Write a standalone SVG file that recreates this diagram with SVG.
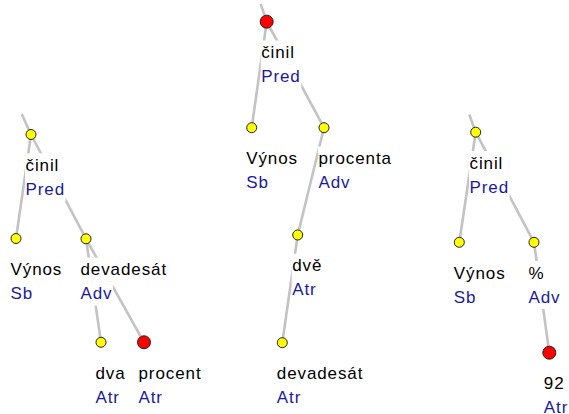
<svg xmlns="http://www.w3.org/2000/svg" width="569" height="414" viewBox="0 0 569 414">
<style>
.e{stroke:#c3c3c3;stroke-width:2.6;fill:none}
.n{stroke:#222;stroke-width:1}
.y{fill:#ffff00}
.r{fill:#ff0000}
.bg{fill:#fff}
text{font-family:"Liberation Sans",Arial,sans-serif;font-size:17px;letter-spacing:0.9px}
.w{fill:#000}
.f{fill:#1a1a9e}
</style>
<rect width="569" height="414" fill="#fff"/>
<g id="connectors">
<line class="e" x1="21.7" y1="114" x2="31" y2="134.5"/>
<line class="e" x1="31" y1="134.5" x2="16" y2="238.5"/>
<line class="e" x1="31" y1="134.5" x2="86" y2="238.8"/>
<line class="e" x1="86" y1="238.8" x2="101" y2="342.3"/>
<line class="e" x1="86" y1="238.8" x2="144" y2="342.3"/>
<line class="e" x1="260.7" y1="4" x2="266.7" y2="21.7"/>
<line class="e" x1="266.7" y1="21.7" x2="251.7" y2="127.7"/>
<line class="e" x1="266.7" y1="21.7" x2="324" y2="127.7"/>
<line class="e" x1="324" y1="127.7" x2="297.7" y2="235"/>
<line class="e" x1="297.7" y1="235" x2="282.3" y2="342.7"/>
<line class="e" x1="469.3" y1="114.5" x2="475.7" y2="132.2"/>
<line class="e" x1="475.7" y1="132.2" x2="459.3" y2="242.3"/>
<line class="e" x1="475.7" y1="132.2" x2="534" y2="242.3"/>
<line class="e" x1="534" y1="242.3" x2="549.3" y2="352.7"/>
</g>
<g id="t1_cinil">
<rect class="bg" x="25" y="153.3" width="34.9" height="24"/><rect class="bg" x="25" y="177.3" width="40.6" height="24"/>
<circle class="n y" cx="31" cy="134.5" r="5"/>
<text class="w" x="25.5" y="170.8">činil</text><text class="f" x="25.5" y="194.8">Pred</text>
</g>
<g id="t1_vynos">
<rect class="bg" x="10" y="257.3" width="52.8" height="24"/><rect class="bg" x="10" y="281.3" width="23.7" height="24"/>
<circle class="n y" cx="16" cy="238.5" r="5"/>
<text class="w" x="10.5" y="274.8">Výnos</text><text class="f" x="10.5" y="298.8">Sb</text>
</g>
<g id="t1_devadesat">
<rect class="bg" x="80" y="257.6" width="87.6" height="24"/><rect class="bg" x="80" y="281.6" width="33.1" height="24"/>
<circle class="n y" cx="86" cy="238.8" r="5"/>
<text class="w" x="80.5" y="275.1">devadesát</text><text class="f" x="80.5" y="299.1">Adv</text>
</g>
<g id="t1_dva">
<rect class="bg" x="95" y="361.1" width="31.2" height="24"/><rect class="bg" x="95" y="385.1" width="25.5" height="24"/>
<circle class="n y" cx="101" cy="342.3" r="5"/>
<text class="w" x="95.5" y="378.6">dva</text><text class="f" x="95.5" y="402.6">Atr</text>
</g>
<g id="t1_procent">
<rect class="bg" x="138" y="361.1" width="64.1" height="24"/><rect class="bg" x="138" y="385.1" width="25.5" height="24"/>
<circle class="n r" cx="144" cy="342.3" r="6.5"/>
<text class="w" x="138.5" y="378.6">procent</text><text class="f" x="138.5" y="402.6">Atr</text>
</g>
<g id="t2_cinil">
<rect class="bg" x="260.7" y="40.5" width="34.9" height="24"/><rect class="bg" x="260.7" y="64.5" width="40.6" height="24"/>
<circle class="n r" cx="266.7" cy="21.7" r="6.5"/>
<text class="w" x="261.2" y="58">činil</text><text class="f" x="261.2" y="82">Pred</text>
</g>
<g id="t2_vynos">
<rect class="bg" x="245.7" y="146.5" width="52.8" height="24"/><rect class="bg" x="245.7" y="170.5" width="23.7" height="24"/>
<circle class="n y" cx="251.7" cy="127.7" r="5"/>
<text class="w" x="246.2" y="164">Výnos</text><text class="f" x="246.2" y="188">Sb</text>
</g>
<g id="t2_procenta">
<rect class="bg" x="318" y="146.5" width="74.4" height="24"/><rect class="bg" x="318" y="170.5" width="33.1" height="24"/>
<circle class="n y" cx="324" cy="127.7" r="5"/>
<text class="w" x="318.5" y="164">procenta</text><text class="f" x="318.5" y="188">Adv</text>
</g>
<g id="t2_dve">
<rect class="bg" x="291.7" y="253.8" width="31.2" height="24"/><rect class="bg" x="291.7" y="277.8" width="25.5" height="24"/>
<circle class="n y" cx="297.7" cy="235" r="5"/>
<text class="w" x="292.2" y="271.3">dvě</text><text class="f" x="292.2" y="295.3">Atr</text>
</g>
<g id="t2_devadesat">
<rect class="bg" x="276.3" y="361.5" width="87.6" height="24"/><rect class="bg" x="276.3" y="385.5" width="25.5" height="24"/>
<circle class="n y" cx="282.3" cy="342.7" r="5"/>
<text class="w" x="276.8" y="379">devadesát</text><text class="f" x="276.8" y="403">Atr</text>
</g>
<g id="t3_cinil">
<rect class="bg" x="469" y="151" width="34.9" height="24"/><rect class="bg" x="469" y="175" width="40.6" height="24"/>
<circle class="n y" cx="475.7" cy="132.2" r="5"/>
<text class="w" x="469.5" y="168.5">činil</text><text class="f" x="469.5" y="192.5">Pred</text>
</g>
<g id="t3_vynos">
<rect class="bg" x="453.3" y="261.1" width="52.8" height="24"/><rect class="bg" x="453.3" y="285.1" width="23.7" height="24"/>
<circle class="n y" cx="459.3" cy="242.3" r="5"/>
<text class="w" x="453.8" y="278.6">Výnos</text><text class="f" x="453.8" y="302.6">Sb</text>
</g>
<g id="t3_pct">
<rect class="bg" x="528" y="261.1" width="17.1" height="24"/><rect class="bg" x="528" y="285.1" width="33.1" height="24"/>
<circle class="n y" cx="534" cy="242.3" r="5"/>
<text class="w" x="528.5" y="278.6">%</text><text class="f" x="528.5" y="302.6">Adv</text>
</g>
<g id="t3_92">
<rect class="bg" x="543.3" y="371.5" width="21.8" height="24"/><rect class="bg" x="543.3" y="395.5" width="25.5" height="24"/>
<circle class="n r" cx="549.3" cy="352.7" r="6.5"/>
<text class="w" x="543.8" y="389">92</text><text class="f" x="543.8" y="413">Atr</text>
</g>
</svg>
